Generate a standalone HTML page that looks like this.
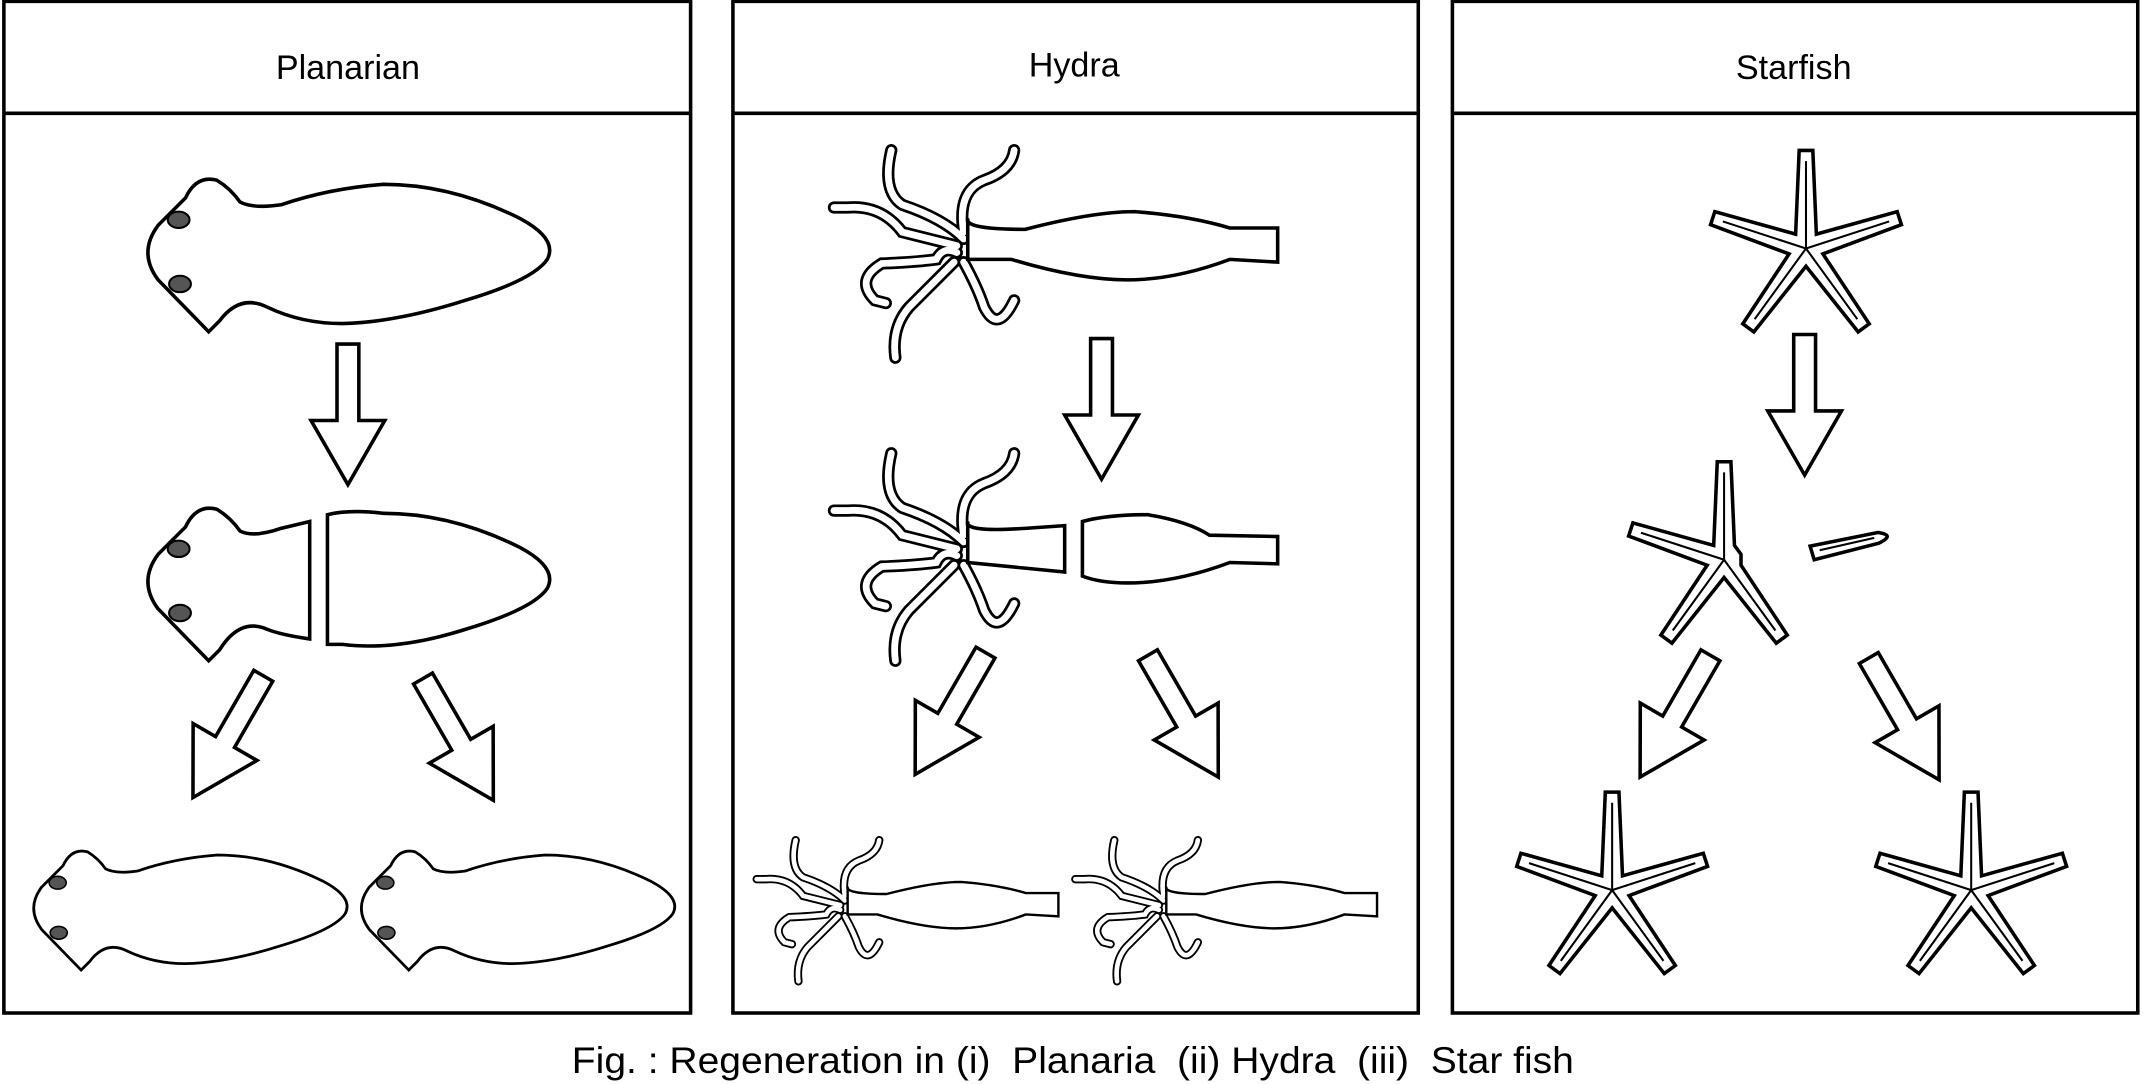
<!DOCTYPE html>
<html><head><meta charset="utf-8"><style>
html,body{margin:0;padding:0;background:#fff;}
svg{display:block;}
text{font-family:"Liberation Sans","DejaVu Sans",sans-serif;}
</style></head><body>
<svg id="fig" width="2143" height="1084" viewBox="0 0 1568 794" xmlns="http://www.w3.org/2000/svg">
<defs>
<g id="planarian">
<path d="M152,243 L115,205 Q100,185 115,165 L135,145 Q143,128 158,132 Q168,138 175,148 Q185,153 205,150 Q240,138 280,135 Q330,135 380,160 Q408,175 400,190 Q390,205 340,220 Q290,236 250,237 Q220,237 195,225 Q175,215 160,235 Z" fill="#fff" stroke="#000" stroke-width="2.6"/>
<ellipse cx="130" cy="161" rx="8" ry="6" fill="#555" stroke="#000" stroke-width="1.5"/>
<ellipse cx="131" cy="208" rx="8" ry="6" fill="#555" stroke="#000" stroke-width="1.5"/>
</g>
<polygon id="arrow" points="-8,0 8,0 8,56 27,56 0,103 -27,56 -8,56" fill="#fff" stroke="#000" stroke-width="2.6"/>
<g id="tentacles" fill="none" stroke-linecap="round">
<g stroke="#000" stroke-width="9">
<path d="M705,175 Q690,160 660,150 Q645,140 652,110"/>
<path d="M705,170 Q700,140 720,132 Q740,125 742,110"/>
<path d="M700,180 Q680,175 660,170 Q645,150 620,152 L610,152"/>
<path d="M700,185 Q690,180 685,190 Q670,192 645,193 Q625,205 640,220 L648,222"/>
<path d="M698,192 Q680,210 665,225 Q652,240 655,262"/>
<path d="M705,192 Q715,210 720,225 Q730,245 742,220"/>
</g>
<g stroke="#fff" stroke-width="5">
<path d="M705,175 Q690,160 660,150 Q645,140 652,110"/>
<path d="M705,170 Q700,140 720,132 Q740,125 742,110"/>
<path d="M700,180 Q680,175 660,170 Q645,150 620,152 L610,152"/>
<path d="M700,185 Q690,180 685,190 Q670,192 645,193 Q625,205 640,220 L648,222"/>
<path d="M698,192 Q680,210 665,225 Q652,240 655,262"/>
<path d="M705,192 Q715,210 720,225 Q730,245 742,220"/>
</g>
</g>
<g id="hydra">
<use href="#tentacles"/>
<path d="M708,160 Q705,168 750,168 Q800,155 830,155 Q870,158 900,167 L935,167 L935,192 L900,190 Q860,205 825,205 Q790,205 740,190 L708,190 Z" fill="#fff" stroke="#000" stroke-width="2.6"/>
</g>
</defs>
<rect width="1568" height="794" fill="#fff"/>

<g>
<rect x="2" y="1" width="503" height="741" fill="none" stroke="#000" stroke-width="2.6"/>
<line x1="2" y1="83" x2="505" y2="83" stroke="#000" stroke-width="2.6"/>
<text x="254" y="58" font-size="25" text-anchor="middle">Planarian</text>
<use href="#planarian"/>
<use href="#arrow" transform="translate(254,252)"/>
<g>
<path d="M152,484 L115,446 Q100,426 115,406 L135,386 Q143,369 158,373 Q168,379 175,389 Q185,394 205,387 L226,382 L226,468 Q205,465 195,461 Q175,452 160,476 Z" fill="#fff" stroke="#000" stroke-width="2.6"/>
<ellipse cx="130" cy="402" rx="8" ry="6" fill="#555" stroke="#000" stroke-width="1.5"/>
<ellipse cx="131" cy="449" rx="8" ry="6" fill="#555" stroke="#000" stroke-width="1.5"/>
<path d="M239,377 Q255,373 280,376 Q330,376 380,401 Q408,416 400,431 Q390,446 340,461 Q290,477 250,472 L239,472 Z" fill="#fff" stroke="#000" stroke-width="2.6"/>
</g>
<use href="#arrow" transform="translate(192,495) rotate(30)"/>
<use href="#arrow" transform="translate(309,497) rotate(-30)"/>
<use href="#planarian" transform="translate(-60,521) scale(0.78)"/>
<use href="#planarian" transform="translate(180,521) scale(0.78)"/>
</g>

<g>
<rect x="536" y="1" width="502" height="741" fill="none" stroke="#000" stroke-width="2.6"/>
<line x1="536" y1="83" x2="1038" y2="83" stroke="#000" stroke-width="2.6"/>
<text x="786" y="56" font-size="25" text-anchor="middle">Hydra</text>
<use href="#hydra"/>
<use href="#arrow" transform="translate(806,248)"/>
<g transform="translate(0,222)">
<use href="#tentacles"/>
<path d="M708,160 Q705,168 750,165 L779,163 L779,197 L708,190 Z" fill="#fff" stroke="#000" stroke-width="2.6"/>
<path d="M792,160 Q810,155 840,155 Q870,160 885,170 L935,171 L935,191 L900,190 Q860,205 825,205 Q805,205 792,200 Z" fill="#fff" stroke="#000" stroke-width="2.6"/>
</g>
<use href="#arrow" transform="translate(721,478) rotate(30)"/>
<use href="#arrow" transform="translate(840,480) rotate(-30)"/>
<use href="#hydra" transform="translate(138.6,540.6) scale(0.68)"/>
<use href="#hydra" transform="translate(372,540.6) scale(0.68)"/>
</g>

<g>
<rect x="1063" y="1" width="502" height="741" fill="none" stroke="#000" stroke-width="2.6"/>
<line x1="1063" y1="83" x2="1565" y2="83" stroke="#000" stroke-width="2.6"/>
<text x="1313" y="58" font-size="25" text-anchor="middle">Starfish</text>
<g id="stars"></g>
<use href="#arrow" transform="translate(1321,245)"/>
<use href="#arrow" transform="translate(1252,480) rotate(30)"/>
<use href="#arrow" transform="translate(1368,482) rotate(-30)"/>
<g>
<path d="M1325,400 L1375,390 Q1388,392 1375,398 L1328,410 Z" fill="#fff" stroke="#000" stroke-width="2.6"/>
<line x1="1332" y1="403" x2="1372" y2="394" stroke="#000" stroke-width="1.5"/>
</g>
</g>

<text x="418" y="786" font-size="27" textLength="734" lengthAdjust="spacingAndGlyphs" xml:space="preserve">Fig. : Regeneration in (i)  Planaria  (ii) Hydra  (iii)  Star fish</text>
</svg>
<script>
var stars=[{cx:1322,cy:182,r:72,n:5,name:'starfish-whole'},{cx:1262,cy:410,r:72,n:4,name:'starfish-cut-body'},{cx:1180,cy:652,r:72,n:5,name:'starfish-regenerated-1'},{cx:1443,cy:652,r:72,n:5,name:'starfish-regenerated-2'}];
var g=document.getElementById('stars');var NS='http://www.w3.org/2000/svg';
stars.forEach(function(s){
 var grp=document.createElementNS(NS,'g');
 
 
 var pts=[];var ri=13;
 var arms=s.n==5?[0,1,2,3,4]:[0,2,3,4];
 for(var k=0;k<5;k++){
  var a=(-90+72*k)*Math.PI/180;
  var a2=(-90+72*k+36)*Math.PI/180;
  if(arms.indexOf(k)>=0){
   var w=4*Math.PI/180;
   pts.push([s.cx+s.r*Math.cos(a-w),s.cy+s.r*Math.sin(a-w)]);
   pts.push([s.cx+s.r*Math.cos(a+w),s.cy+s.r*Math.sin(a+w)]);
  } else {pts.push([s.cx+ri*Math.cos(a),s.cy+ri*Math.sin(a)]);}
  pts.push([s.cx+ri*Math.cos(a2),s.cy+ri*Math.sin(a2)]);
 }
 var p=document.createElementNS(NS,'polygon');
 p.setAttribute('points',pts.map(function(q){return q[0].toFixed(1)+','+q[1].toFixed(1)}).join(' '));
 p.setAttribute('fill','#fff');p.setAttribute('stroke','#000');p.setAttribute('stroke-width','2.6');
 grp.appendChild(p);
 arms.forEach(function(k){
  var a=(-90+72*k)*Math.PI/180;
  var l=document.createElementNS(NS,'line');
  l.setAttribute('x1',s.cx);l.setAttribute('y1',s.cy);
  l.setAttribute('x2',(s.cx+(s.r-8)*Math.cos(a)).toFixed(1));l.setAttribute('y2',(s.cy+(s.r-8)*Math.sin(a)).toFixed(1));
  l.setAttribute('stroke','#000');l.setAttribute('stroke-width','1.5');
  grp.appendChild(l);
 });
 g.appendChild(grp);
});
</script>
</body></html>
